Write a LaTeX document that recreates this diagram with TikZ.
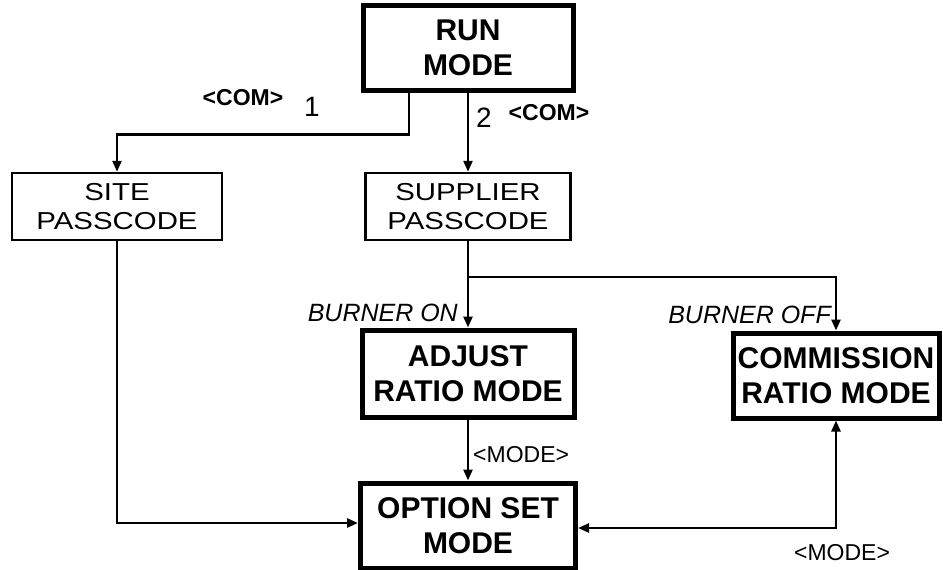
\documentclass[tikz,border=0pt]{standalone}
\usepackage{fontspec}
\setmainfont{Liberation Sans}
\newfontfamily\widefont[FakeStretch=1.2]{Liberation Sans}
\usetikzlibrary{arrows.meta}
\begin{document}
\begin{tikzpicture}[x=1pt,y=-1pt,
  thickbox/.style={draw,line width=5pt,rectangle,inner sep=0pt,align=center,
    font=\bfseries\fontsize{30}{35}\selectfont},
  thinbox/.style={draw,line width=2.5pt,rectangle,inner sep=0pt,align=center,
    font=\widefont\fontsize{24.5}{29}\selectfont},
  conn/.style={line width=2.5pt,-{Triangle[length=11pt,width=9pt]}},
  dconn/.style={line width=2.5pt,{Triangle[length=11pt,width=9pt]}-{Triangle[length=11pt,width=9pt]}},
  boldlab/.style={inner sep=0pt,font=\bfseries\fontsize{23}{23}\selectfont},
  numlab/.style={inner sep=0pt,font=\fontsize{28}{28}\selectfont},
  itlab/.style={inner sep=0pt,font=\itshape\fontsize{25}{25}\selectfont},
  modelab/.style={inner sep=0pt,font=\fontsize{23}{23}\selectfont}]
\useasboundingbox (0,0) rectangle (943,570);

\node[thickbox,minimum width=210pt,minimum height=85pt] (run) at (468,47.5) {RUN\\MODE};
\node[thinbox,minimum width=210pt,minimum height=67pt] (site) at (117,206.5) {SITE\\PASSCODE};
\node[thinbox,minimum width=205pt,minimum height=67pt] (sup) at (468,206.5) {SUPPLIER\\PASSCODE};
\node[thickbox,minimum width=212pt,minimum height=87pt] (adj) at (468,373.5) {ADJUST\\RATIO MODE};
\node[thickbox,minimum width=206pt,minimum height=85pt] (com) at (836,375.5) {COMMISSION\\RATIO MODE};
\node[thickbox,minimum width=215pt,minimum height=85pt] (opt) at (468,525.5) {OPTION SET\\MODE};

\coordinate (br) at (468,277);

\draw[conn] ([xshift=-59pt]run.south) -- ++(0,42) -| (site.north);
\draw[conn] (run.south) -- (sup.north);
\draw[line width=2.5pt] (sup.south) -- (br);
\draw[conn] (br) -- (adj.north);
\draw[conn] (br) -| (com.north);
\draw[conn] (adj.south) -- (opt.north);
\draw[conn] (site.south) |- ([yshift=2.5pt]opt.west);
\draw[dconn] (com.south) |- ([yshift=-2.5pt]opt.east);

\node[boldlab] (com1) at (243,98) {<COM>};
\node[numlab] (n1) at (312,107) {1};
\node[numlab] (n2) at (484,118) {2};
\node[boldlab] (com2) at (549,113) {<COM>};
\node[itlab,anchor=east] (bon) at (458,313) {BURNER ON};
\node[itlab,anchor=east] (boff) at (831,315) {BURNER OFF};
\node[modelab,anchor=west] (m1) at (473,455) {<MODE>};
\node[modelab] (m2) at (842,553) {<MODE>};
\end{tikzpicture}
\end{document}
